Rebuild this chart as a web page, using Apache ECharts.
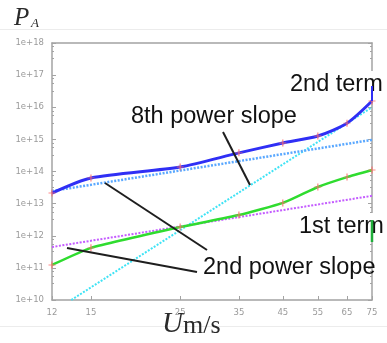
<!DOCTYPE html>
<html>
<head>
<meta charset="utf-8">
<script src="https://cdn.jsdelivr.net/npm/echarts@6/dist/echarts.min.js"></script>
<style>html,body{margin:0;padding:0;background:#fff}#c{width:387px;height:343px}</style>
</head>
<body>
<div id="c"></div>
<script>
// ---- data ----
const speedTicks = [12, 15, 25, 35, 45, 55, 65, 75];
const speeds = [12, 15, 25, 35, 45, 55, 65, 75];
const secondTerm = [2.14e13, 6.3e13, 1.38e14, 3.8e14, 7.7e14, 1.27e15, 3.2e15, 1.57e16];
const firstTerm = [1.23e11, 4.2e11, 1.87e12, 4.4e12, 1.05e13, 3.3e13, 6.7e13, 1.11e14];
const secondPowerHigh = [[12, 2.47e13], [75, 9.66e14]];
const secondPowerLow = [[12, 4.47e11], [75, 1.75e13]];
const eighthPower = [[13.4, 1e10], [75, 1.0e16]];

const pair = (xs, ys) => xs.map((x, i) => [x, ys[i]]);
const plusSym = 'path://M-0.18,-1H0.18V1H-0.18Z M-1,-0.12H1V0.12H-1Z';

const chart = echarts.init(document.getElementById('c'), null, {renderer: 'canvas'});
const axisCol = '#a3a3a3';
const yLabelFmt = v => '1e+' + Math.round(Math.log10(v));
const annFont = '23.5px "Liberation Sans", Arial, sans-serif';

chart.setOption({
  animation: false,
  grid: {left: 52, right: 15, top: 43, bottom: 43},
  xAxis: [{
    type: 'log', logBase: 10, min: 12, max: 75, position: 'bottom',
    axisLine: {show: true, lineStyle: {color: axisCol, width: 1.5}},
    axisTick: {show: true, inside: true, length: 4, customValues: speedTicks, lineStyle: {color: axisCol}},
    axisLabel: {show: true, customValues: speedTicks, color: '#9a9a9a', fontSize: 8.5, fontFamily: 'DejaVu Sans', margin: 8},
    splitLine: {show: false}, minorTick: {show: false}
  }, {
    type: 'log', logBase: 10, min: 12, max: 75, position: 'top',
    axisLine: {show: true, lineStyle: {color: axisCol, width: 1.5}},
    axisTick: {show: false}, axisLabel: {show: false}, splitLine: {show: false}
  }],
  yAxis: [{
    type: 'log', logBase: 10, min: 1e10, max: 1e18, interval: 1, position: 'left',
    axisLine: {show: true, lineStyle: {color: axisCol, width: 1.5}},
    axisTick: {show: true, inside: true, length: 4, lineStyle: {color: axisCol}},
    minorTick: {show: true, splitNumber: 4, length: 2, lineStyle: {color: axisCol}},
    axisLabel: {formatter: yLabelFmt, color: '#9a9a9a', fontSize: 8.5, fontFamily: 'DejaVu Sans', margin: 8},
    splitLine: {show: false}
  }, {
    type: 'log', logBase: 10, min: 1e10, max: 1e18, interval: 1, position: 'right',
    axisLine: {show: true, lineStyle: {color: axisCol, width: 1.5}},
    axisTick: {show: true, inside: true, length: 4, lineStyle: {color: axisCol}},
    minorTick: {show: true, splitNumber: 4, length: 2, lineStyle: {color: axisCol}},
    axisLabel: {show: false}, splitLine: {show: false}
  }],
  series: [
    {type: 'line', data: eighthPower, showSymbol: false, lineStyle: {color: '#3fe3f5', width: 2, type: [2, 1.5]}, z: 2},
    {type: 'line', data: secondPowerHigh, showSymbol: false, lineStyle: {color: '#5aa8ff', width: 2.5, type: [2, 1.5]}, z: 2},
    {type: 'line', data: secondPowerLow, showSymbol: false, lineStyle: {color: '#c45cff', width: 2, type: [2, 1.5]}, z: 2},
    {type: 'line', data: pair(speeds, secondTerm), smooth: 0.25, symbol: plusSym, symbolSize: 7, showSymbol: true,
     itemStyle: {color: '#ff6b6b', opacity: 0.8}, lineStyle: {color: '#2f2ff5', width: 3}, z: 3},
    {type: 'line', data: pair(speeds, firstTerm), smooth: 0.15, symbol: plusSym, symbolSize: 7, showSymbol: true,
     itemStyle: {color: '#ff6b6b', opacity: 0.8}, lineStyle: {color: '#2fdc2f', width: 2.5}, z: 3}
  ],
  graphic: [
    {type: 'line', shape: {x1: 0, y1: 29.5, x2: 387, y2: 29.5}, style: {stroke: '#ececec', lineWidth: 1}, z: 0},
    {type: 'line', shape: {x1: 0, y1: 326.5, x2: 387, y2: 326.5}, style: {stroke: '#ececec', lineWidth: 1}, z: 0},
    // pointer lines
    {type: 'line', shape: {x1: 223, y1: 132, x2: 250, y2: 185}, style: {stroke: '#1e1e1e', lineWidth: 2}, z: 10},
    {type: 'line', shape: {x1: 105, y1: 183, x2: 207, y2: 250}, style: {stroke: '#1e1e1e', lineWidth: 2}, z: 10},
    {type: 'line', shape: {x1: 67, y1: 248, x2: 197, y2: 272}, style: {stroke: '#1e1e1e', lineWidth: 2}, z: 10},
    // annotation texts
    {type: 'text', x: 289, y: 85, style: {text: '2nd term', font: annFont, fill: '#111', textVerticalAlign: 'middle', backgroundColor: '#fff', padding: [2, 1, 2, 1]}, z: 20},
    {type: 'text', x: 131, y: 117, style: {text: '8th power slope', font: annFont, fill: '#111', textVerticalAlign: 'middle'}, z: 20},
    {type: 'text', x: 298, y: 227, style: {text: '1st term', font: annFont, fill: '#111', textVerticalAlign: 'middle', backgroundColor: '#fff', padding: [2, 1, 2, 1]}, z: 20},
    {type: 'text', x: 203, y: 268, style: {text: '2nd power slope', font: annFont, fill: '#111', textVerticalAlign: 'middle'}, z: 20},
    {type: 'line', shape: {x1: 372, y1: 86, x2: 372, y2: 101}, style: {stroke: '#2f2ff5', lineWidth: 2}, z: 21},
    {type: 'line', shape: {x1: 372, y1: 220, x2: 372, y2: 242}, style: {stroke: '#1fae3a', lineWidth: 2.5}, z: 21},
    // title P_A
    {type: 'text', x: 14, y: 18, style: {text: 'P', font: 'italic 25px "Liberation Serif", "DejaVu Serif", serif', fill: '#2a2a2a', textVerticalAlign: 'middle'}, z: 20},
    {type: 'text', x: 31, y: 24, style: {text: 'A', font: 'italic 13px "Liberation Serif", "DejaVu Serif", serif', fill: '#2a2a2a', textVerticalAlign: 'middle'}, z: 20},
    // axis name U m/s
    {type: 'text', x: 162, y: 324, style: {text: 'U', font: 'italic 29px "Liberation Serif", "DejaVu Serif", serif', fill: '#2a2a2a', textVerticalAlign: 'middle'}, z: 20},
    {type: 'text', x: 183, y: 326, style: {text: 'm/s', font: '26px "Liberation Serif", "DejaVu Serif", serif', fill: '#2a2a2a', textVerticalAlign: 'middle'}, z: 20}
  ]
});
</script>
</body>
</html>
